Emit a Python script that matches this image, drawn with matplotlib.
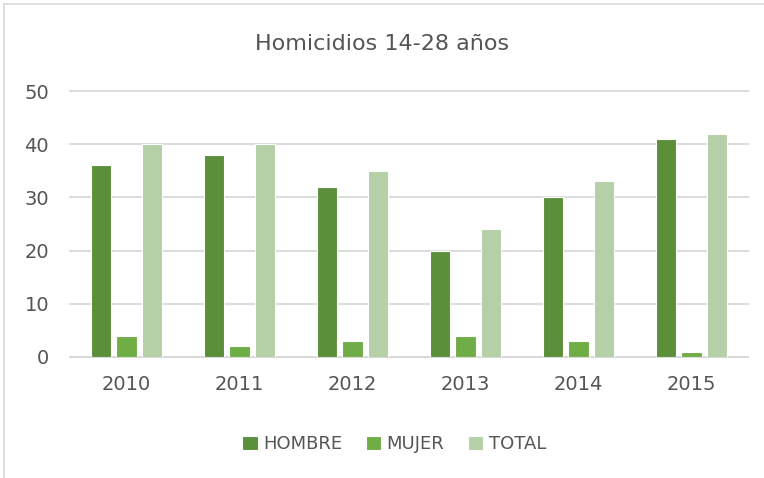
import matplotlib
matplotlib.use("Agg")
import matplotlib.pyplot as plt
import numpy as np
from matplotlib.lines import Line2D

years = ["2010", "2011", "2012", "2013", "2014", "2015"]
hombre = [36, 38, 32, 20, 30, 41]
mujer = [4, 2, 3, 4, 3, 1]
total = [40, 40, 35, 24, 33, 42]
series_names = ["HOMBRE", "MUJER", "TOTAL"]
colors = ["#5b8f3a", "#70ad47", "#b5cfa6"]

plt.rcParams['font.family'] = ['DejaVu Sans']
txt = "#555555"

fig = plt.figure(figsize=(7.64, 4.78), dpi=100)
ax = fig.add_axes([70/764, 1-357/478, (748-70)/764, (357-91)/478])

x = np.arange(len(years))
w = 0.18
step = 0.225
for i, (vals, name, c) in enumerate(zip([hombre, mujer, total], series_names, colors)):
    ax.bar(x + (i-1)*step, vals, width=w, color=c, label=name,
           edgecolor="white", linewidth=0.8, zorder=3)

ax.set_xlim(-0.5, len(years)-0.5)
ax.set_ylim(0, 50)
ax.set_yticks([0, 10, 20, 30, 40, 50])
ax.yaxis.grid(True, color="#d9d9d9", linewidth=1.3, zorder=0)
for gl in ax.get_ygridlines():
    gl.set_clip_on(False)
ax.set_xticks(x)
ax.set_xticklabels(years)
for s in ["top", "right", "left"]:
    ax.spines[s].set_visible(False)
ax.spines["bottom"].set_color("#d9d9d9")
ax.spines["bottom"].set_linewidth(1.3)
ax.tick_params(axis="both", length=0, labelsize=14, colors=txt)
ax.tick_params(axis="x", pad=13)
ax.tick_params(axis="y", pad=15)

fig.text(0.5, 1-44/478, "Homicidios 14-28 años", ha="center", va="center",
         fontsize=16, color=txt)

leg = fig.legend(loc="center", bbox_to_anchor=(0.516, 1-444/478), ncol=3,
                 frameon=False, fontsize=13, handlelength=0.85, handleheight=0.85,
                 handletextpad=0.3, columnspacing=1.3)
for t in leg.get_texts():
    t.set_color(txt)

fig.add_artist(Line2D([4/764, 4/764], [0, 1-4/478], color="#d9d9d9", linewidth=1.2))
fig.add_artist(Line2D([4/764, 1], [1-4/478, 1-4/478], color="#d9d9d9", linewidth=1.2))

fig.savefig("out.png", dpi=100)
